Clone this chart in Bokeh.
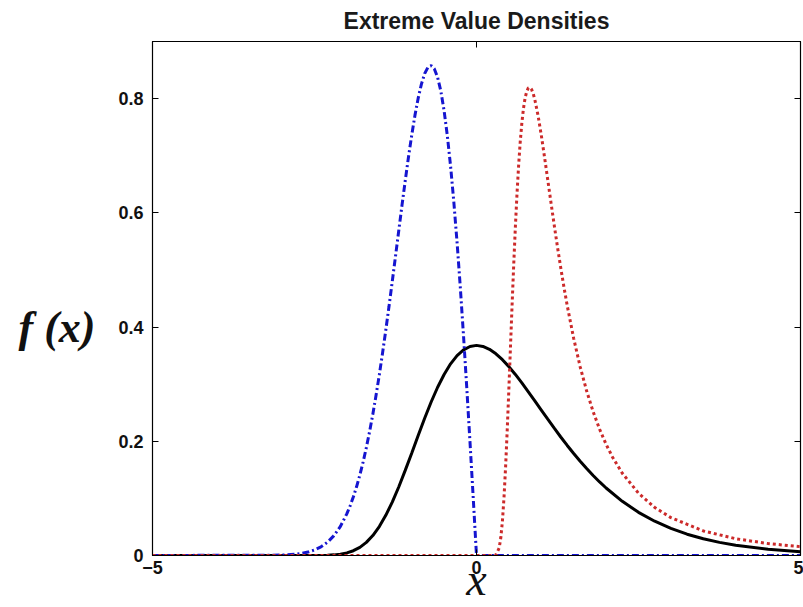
from bokeh.plotting import figure
from bokeh.models import Range1d, FixedTicker, LinearAxis
from bokeh.embed import file_html
from bokeh.resources import INLINE

# Gumbel (type I) density
gum_x = [-5.0, -2.5, -2.4, -2.3, -2.2, -2.1, -2.0, -1.9, -1.8, -1.7, -1.6, -1.5, -1.4, -1.3, -1.2, -1.1,
         -1.0, -0.9, -0.8, -0.7, -0.6, -0.5, -0.4, -0.3, -0.2, -0.1, 0.0,
         0.1, 0.2, 0.3, 0.4, 0.5, 0.6, 0.7, 0.8, 0.9, 1.0, 1.1, 1.2, 1.3, 1.4, 1.5, 1.6, 1.7, 1.8, 1.9, 2.0,
         2.25, 2.5, 2.75, 3.0, 3.25, 3.5, 3.75, 4.0, 4.5, 5.0]
gum_y = [0.0, 0.0001, 0.0002, 0.0005, 0.0011, 0.0023, 0.0046, 0.0084, 0.0143, 0.0230, 0.0350, 0.0507, 0.0703, 0.0935, 0.120, 0.149,
         0.179, 0.2102, 0.2404, 0.2688, 0.2946, 0.3170, 0.3356, 0.3500, 0.3601, 0.3660, 0.3679,
         0.3661, 0.3611, 0.3532, 0.3429, 0.3307, 0.3170, 0.3022, 0.2867, 0.2707, 0.2546, 0.2386, 0.2229, 0.2075, 0.1927, 0.1785, 0.1650, 0.1522, 0.1401, 0.1288, 0.1182,
         0.0949, 0.0756, 0.0600, 0.0474, 0.0373, 0.0293, 0.0230, 0.0180, 0.0110, 0.0067]

# Weibull (type III) density, blue dash-dot curve
wei_x = [-5.0, -3.0, -2.8, -2.7, -2.6, -2.5, -2.4, -2.3, -2.2, -2.1, -2.0, -1.95, -1.9, -1.85, -1.8, -1.75, -1.7, -1.65, -1.6,
         -1.55, -1.5, -1.45, -1.4, -1.35, -1.3, -1.25, -1.2, -1.15, -1.1, -1.05, -1.0, -0.95, -0.9, -0.85, -0.8,
         -0.75, -0.7, -0.65, -0.6, -0.55, -0.5, -0.45, -0.4, -0.35, -0.3, -0.25, -0.2, -0.15, -0.1, -0.05, 0.0, 5.0]
wei_y = [0.0, 0.0007, 0.0022, 0.0037, 0.0060, 0.0097, 0.0151, 0.0232, 0.0348, 0.0510, 0.0733, 0.0870, 0.1028, 0.1207, 0.1410, 0.1637, 0.1890, 0.2168, 0.2474,
         0.2806, 0.3162, 0.3544, 0.3944, 0.4363, 0.4798, 0.5240, 0.5686, 0.6130, 0.6560, 0.6974, 0.7358, 0.7706, 0.8008, 0.8254, 0.8437,
         0.8547, 0.8577, 0.8520, 0.8372, 0.8129, 0.7788, 0.7350, 0.6817, 0.6193, 0.5483, 0.4697, 0.3843, 0.2933, 0.1980, 0.0998, 0.0, 0.0]

# Frechet (type II) density, red dotted curve
fre_x = [-5.0, 0.25, 0.3, 0.35, 0.375, 0.4, 0.425, 0.45, 0.475, 0.5, 0.525, 0.55, 0.575, 0.6, 0.625, 0.65, 0.675, 0.7, 0.725,
         0.75, 0.775, 0.8, 0.825, 0.85, 0.875, 0.9, 0.95, 1.0, 1.05, 1.1, 1.15, 1.2, 1.25, 1.3, 1.35, 1.4, 1.5, 1.6, 1.7,
         1.8, 1.9, 2.0, 2.1, 2.25, 2.5, 2.75, 3.0, 3.5, 4.0, 4.5, 5.0]
fre_y = [0.0, 0.0, 0.0011, 0.0133, 0.0309, 0.0603, 0.1027, 0.1573, 0.2219, 0.2930, 0.3673, 0.4408, 0.5111, 0.5757, 0.6332, 0.6829, 0.7245, 0.7574, 0.7830,
         0.8012, 0.8124, 0.8187, 0.8196, 0.8161, 0.8088, 0.7983, 0.7703, 0.7358, 0.6975, 0.6575, 0.6174, 0.5780, 0.5399, 0.5038, 0.4696, 0.4376, 0.3800, 0.3304, 0.2880,
         0.2519, 0.2211, 0.1947, 0.1721, 0.1441, 0.1091, 0.0842, 0.0663, 0.0430, 0.0294, 0.0209, 0.0154]

x_ticks = [-5, 0, 5]
y_ticks = [0, 0.2, 0.4, 0.6, 0.8]
y_tick_labels = ["0", "0.2", "0.4", "0.6", "0.8"]
title_text = "Extreme Value Densities"
x_label = "x"
y_label = "\nf (x)"

p = figure(width=803, height=607, output_backend="svg", toolbar_location=None,
           x_range=Range1d(-5, 5), y_range=Range1d(0, 0.9),
           min_border_left=152, min_border_right=3, min_border_top=41, min_border_bottom=52)
p.background_fill_color = "white"
p.border_fill_color = "white"
p.grid.visible = False
p.outline_line_color = "black"
p.outline_line_width = 1.2

p.title.text = title_text
p.title.text_font = "Liberation Sans"
p.title.text_font_style = "bold"
p.title.text_font_size = "23px"
p.title.text_color = "#1a1a1a"
p.title.align = "center"
p.title.vertical_align = "top"
p.title.standoff = 11

p.line(gum_x, gum_y, line_color="black", line_width=3)
p.line(wei_x, wei_y, line_color="#1515d0", line_width=3, line_dash="7 3 2 3")
p.line(fre_x, fre_y, line_color="#cc2a2a", line_width=3, line_dash="3 3")

for ax in (p.xaxis[0], p.yaxis[0]):
    ax.major_tick_in = 6
    ax.major_tick_out = 0
    ax.minor_tick_line_color = None
    ax.axis_line_color = "black"
    ax.major_label_text_font = "Liberation Sans"
    ax.major_label_text_font_style = "bold"
    ax.major_label_text_font_size = "18px"
    ax.major_label_text_color = "#111111"

p.xaxis.ticker = FixedTicker(ticks=x_ticks)
p.yaxis.ticker = FixedTicker(ticks=y_ticks)
p.yaxis.major_label_overrides = {t: s for t, s in zip(y_ticks, y_tick_labels)}
p.xaxis.major_label_standoff = 5
p.yaxis.major_label_standoff = 9

p.xaxis.axis_label = x_label
p.xaxis.axis_label_text_font = "Liberation Serif"
p.xaxis.axis_label_text_font_style = "italic"
p.xaxis.axis_label_text_font_size = "46px"
p.xaxis.axis_label_text_color = "#111111"
p.xaxis.axis_label_standoff = -23

p.yaxis.axis_label = y_label
p.yaxis.axis_label_orientation = "horizontal"
p.yaxis.axis_label_text_font = "Liberation Serif"
p.yaxis.axis_label_text_font_style = "bold italic"
p.yaxis.axis_label_text_font_size = "44px"
p.yaxis.axis_label_text_color = "#111111"
p.yaxis.axis_label_standoff = 20

top = LinearAxis(ticker=FixedTicker(ticks=x_ticks), major_label_text_alpha=0, major_label_text_font_size="1px",
                 major_tick_in=6, major_tick_out=0, minor_tick_line_color=None, major_label_standoff=0)
right = LinearAxis(ticker=FixedTicker(ticks=y_ticks), major_label_text_alpha=0, major_label_text_font_size="1px",
                   major_tick_in=6, major_tick_out=0, minor_tick_line_color=None, major_label_standoff=0)
p.add_layout(top, "above")
p.add_layout(right, "right")

open("out.html", "w").write(file_html(p, INLINE))
